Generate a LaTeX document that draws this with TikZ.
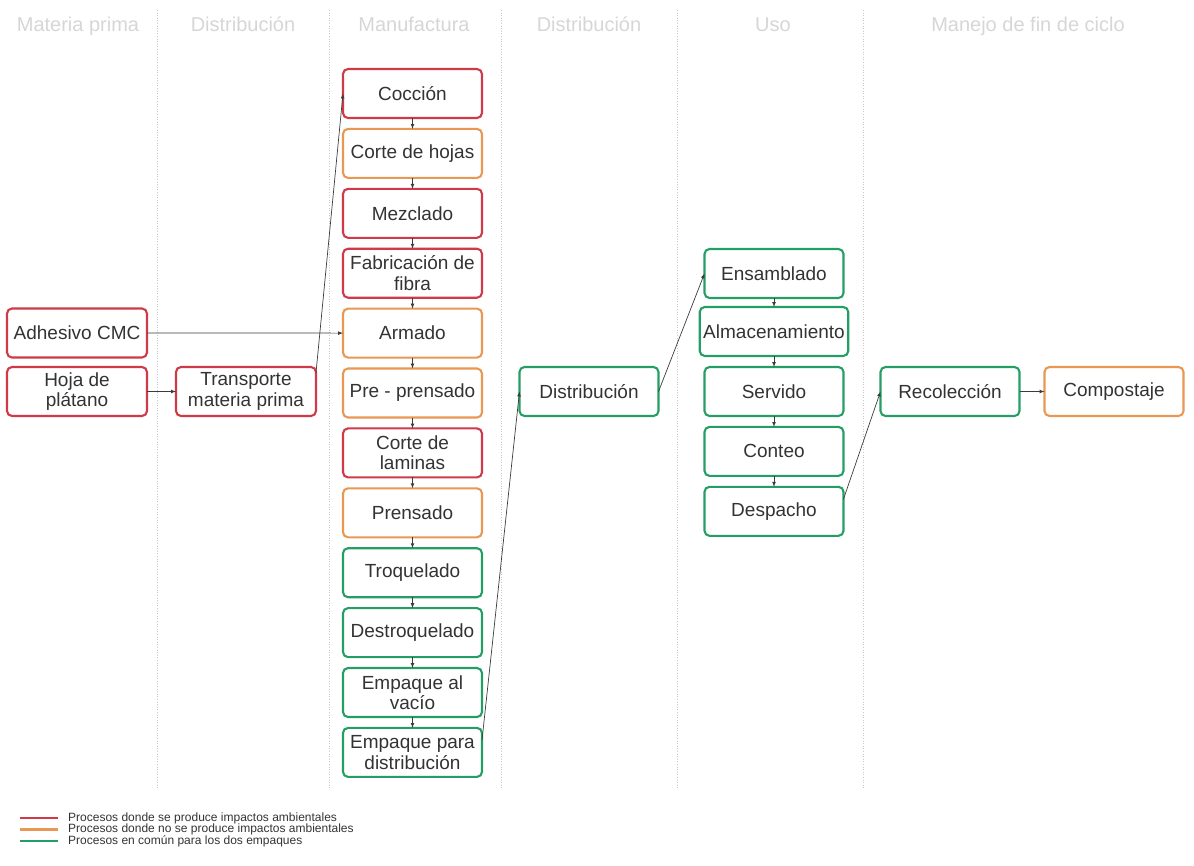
\documentclass[tikz,border=0pt]{standalone}
\usepackage{fontspec}
\setmainfont{Liberation Sans}
\usepackage{tikz}
\definecolor{impactred}{RGB}{208,57,72}
\definecolor{noimpact}{RGB}{232,152,82}
\definecolor{common}{RGB}{36,158,100}
\definecolor{headgray}{RGB}{214,214,214}
\definecolor{sepgray}{RGB}{200,200,200}
\definecolor{textgray}{RGB}{51,51,51}
\definecolor{linegray}{RGB}{60,60,60}
\usetikzlibrary{positioning}

\begin{document}
\begin{tikzpicture}[x=1pt, y=-1pt,
			>=latex,   %Pfeilspitzen
			box/.style={draw, rounded corners=5pt, line width=2.1pt, fill=white, minimum width=139pt, minimum height=49pt,
				inner xsep=3.5pt, inner ysep=2pt, outer sep=0pt, align=center, text=textgray, font=\fontsize{19}{20.5}\selectfont},
			rojo/.style={box, draw=impactred},
			naranja/.style={box, draw=noimpact},
			verde/.style={box, draw=common},
			phase/.style={text=headgray, font=\fontsize{20}{24}\selectfont, anchor=base},
			flow/.style={->, draw=linegray, line width=0.7pt},
			legend/.style={anchor=west, text=textgray, font=\fontsize{12}{14}\selectfont, inner sep=0pt},
			node distance=10.9pt]
			\useasboundingbox (0,0) rectangle (1194,865);
			% Trennlinien
			\foreach \x in {157,329,501,677,863} \draw[sepgray, dotted, line width=0.6pt] (\x,10) -- (\x,790);
			% Phasen
			\node[phase] (h1) at (78,31) {Materia prima};
			\node[phase] (h2) at (243,31) {Distribución};
			\node[phase] (h3) at (414,31) {Manufactura};
			\node[phase] (h4) at (589,31) {Distribución};
			\node[phase] (h5) at (773,31) {Uso};
			\node[phase] (h6) at (1028,31) {Manejo de fin de ciclo};
			% Materia prima
			\node[rojo, minimum width=140pt] (adh) at (77,333) {Adhesivo CMC};
			\node[rojo, minimum width=140pt] (hoja) at (77,391.5) {Hoja de\\plátano};
			\node[rojo, minimum width=140pt] (trans) at (246,391.5) {Transporte\\materia prima};
			% Manufactura
			\node[rojo] (coc) at (412.5,93.5) {Cocción};
			\node[naranja, below=of coc] (corte) {Corte de hojas};
			\node[rojo, below=of corte] (mez) {Mezclado};
			\node[rojo, below=of mez] (fib) {Fabricación de\\fibra};
			\node[naranja, below=of fib] (arm) {Armado};
			\node[naranja, below=of arm] (pre) {Pre - prensado};
			\node[rojo, below=of pre] (lam) {Corte de\\laminas};
			\node[naranja, below=of lam] (pren) {Prensado};
			\node[verde, below=of pren] (troq) {Troquelado};
			\node[verde, below=of troq] (dtroq) {Destroquelado};
			\node[verde, below=of dtroq] (vac) {Empaque al\\vacío};
			\node[verde, below=of vac] (emp) {Empaque para\\distribución};
			% Distribucion und Uso
			\node[verde] (dist) at (589,391.5) {Distribución};
			\node[verde] (ens) at (774,273.5) {Ensamblado};
			\node[verde, below=9pt of ens] (alm) {Almacenamiento};
			\node[verde, below=11pt of alm] (serv) {Servido};
			\node[verde, below=of serv] (cont) {Conteo};
			\node[verde, below=of cont] (desp) {Despacho};
			% Fin de ciclo
			\node[verde] (rec) at (950,391.5) {Recolección};
			\node[naranja] (comp) at (1114,391.5) {Compostaje};
			% Pfeile
			\draw[flow] (hoja) -- (trans);
			\draw[flow] (adh.east) -- (arm.west);
			\draw[flow] (trans.15) -- (coc.west);
			\foreach \a/\b in {coc/corte, corte/mez, mez/fib, fib/arm, arm/pre, pre/lam, lam/pren, pren/troq, troq/dtroq, dtroq/vac, vac/emp}
				\draw[flow] (\a) -- (\b);
			\draw[flow] (emp.10) -- (dist.west);
			\draw[flow] (dist.east) -- (ens.west);
			\foreach \a/\b in {ens/alm, alm/serv, serv/cont, cont/desp}
				\draw[flow] (\a) -- (\b);
			\draw[flow] (desp.10) -- (rec.west);
			\draw[flow] (rec) -- (comp);
			% Legende
			\draw[impactred, line width=2.8pt] (20,818) -- (58,818);
			\node[legend] (l1) at (68,818) {Procesos donde se produce impactos ambientales};
			\draw[noimpact, line width=2.8pt] (20,829.5) -- (58,829.5);
			\node[legend] (l2) at (68,829.5) {Procesos donde no se produce impactos ambientales};
			\draw[common, line width=2.8pt] (20,841) -- (58,841);
			\node[legend] (l3) at (68,841) {Procesos en común para los dos empaques};
		\end{tikzpicture}
\end{document}
